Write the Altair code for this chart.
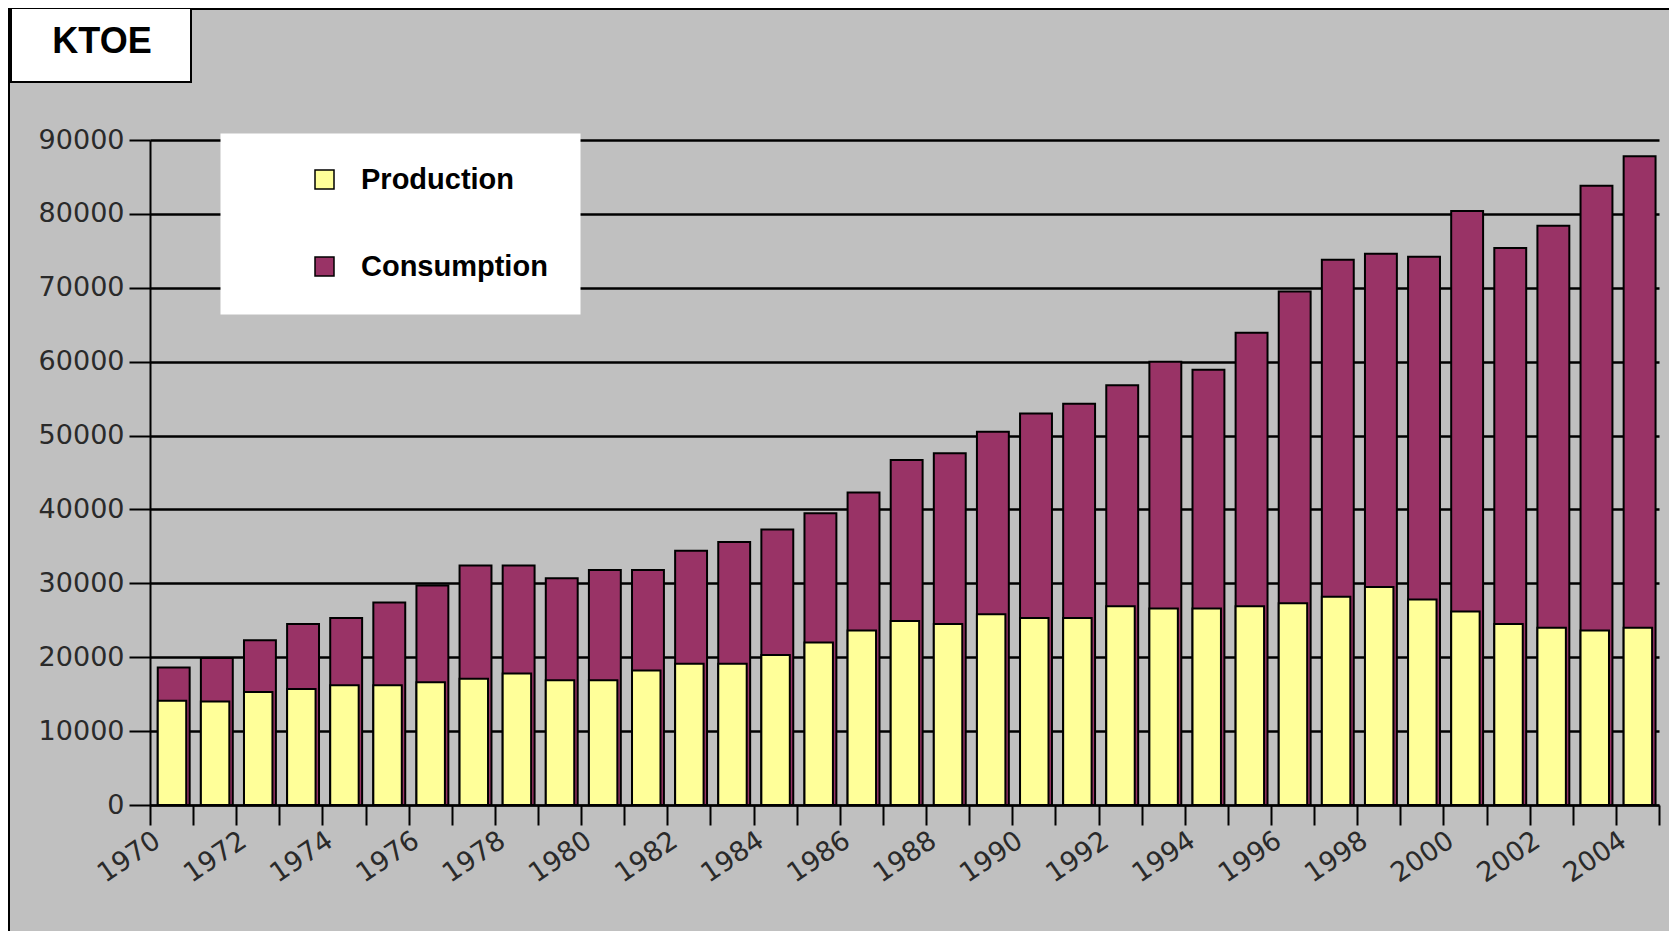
import altair as alt
import pandas as pd

years = list(range(1970, 2005))
production = [14100, 14000, 15300, 15700, 16200, 16200, 16600, 17100, 17800, 16900,
              16900, 18200, 19100, 19100, 20300, 22000, 23600, 24900, 24500, 25800,
              25300, 25300, 26900, 26600, 26600, 26900, 27300, 28200, 29500, 27800,
              26200, 24500, 24000, 23600, 24000]
consumption = [18600, 19900, 22300, 24500, 25300, 27400, 29700, 32400, 32400, 30700,
               31800, 31800, 34400, 35600, 37300, 39500, 42300, 46700, 47600, 50500,
               53000, 54300, 56800, 60000, 58900, 63900, 69500, 73800, 74600, 74200,
               80400, 75400, 78400, 83800, 87800]
series_names = ["Production", "Consumption"]
series_colors = ["#FFFF99", "#993366"]
tick_years = list(range(1970, 2006))
y_ticks = list(range(0, 90001, 10000))
unit_label = "KTOE"

df = pd.DataFrame({
    "year": years + years,
    "series": ["Production"] * len(years) + ["Consumption"] * len(years),
    "value": production + consumption,
})

W, H = 1509, 665
PAD = {"left": 142, "top": 132, "right": 10, "bottom": 126}

xscale = alt.Scale(domain=[1970, 2005], nice=False, zero=False)
yscale = alt.Scale(domain=[0, 90000], nice=False)

x_axis = alt.Axis(
    values=tick_years, format="d",
    labelExpr="datum.value % 2 == 0 && datum.value < 2005 ? datum.label : ''",
    labelAngle=326, labelAlign="right", labelBaseline="top",
    labelFont="DejaVu Sans", labelFontSize=27, labelColor="#2a2a2a",
    labelPadding=2, labelFlush=False, labelOverlap=False, labelBound=False,
    tickSize=20, tickWidth=2, tickColor="black",
    domainColor="black", domainWidth=2, grid=False, title=None,
)
y_axis = alt.Axis(
    values=y_ticks, format="d",
    labelFont="DejaVu Sans", labelFontSize=27, labelColor="#2a2a2a",
    labelPadding=5, tickSize=21, tickWidth=2, tickColor="black",
    domainColor="black", domainWidth=2,
    grid=True, gridColor="black", gridWidth=2.5, title=None,
)
color = alt.Color(
    "series:N",
    scale=alt.Scale(domain=series_names, range=series_colors),
    legend=alt.Legend(
        title=None, orient="none", legendX=70, legendY=-7,
        fillColor="white", strokeColor="transparent", padding=32,
        symbolType="square", symbolSize=361, symbolOffset=58,
        symbolStrokeColor="black", symbolStrokeWidth=1.5,
        labelOffset=22, rowPadding=57, labelLimit=400,
        labelFont="Liberation Sans", labelFontSize=29, labelFontWeight="bold",
        labelColor="black",
    ),
)

base = alt.Chart(df).transform_calculate(
    x0="datum.year + 0.18",
    x1="datum.series == 'Production' ? datum.year + 0.84 : datum.year + 0.92",
    zero="0",
)

def bars(name):
    return base.transform_filter(f"datum.series == '{name}'").mark_rect(
        stroke="black", strokeWidth=2
    ).encode(
        x=alt.X("x0:Q", scale=xscale, axis=x_axis),
        x2="x1:Q",
        y=alt.Y("value:Q", scale=yscale, axis=y_axis),
        y2="zero:Q",
        color=color,
    )

deco = alt.Data(values=[{"a": 1}])
left_border = alt.Chart(deco).mark_rule(color="black", strokeWidth=2).encode(
    x=alt.value(-141), y=alt.value(-132), y2=alt.value(H + 126))
top_border = alt.Chart(deco).mark_rule(color="black", strokeWidth=2).encode(
    x=alt.value(-142), x2=alt.value(W + 10), y=alt.value(-131))
ktoe_box = alt.Chart(deco).mark_rect(fill="white", stroke="black", strokeWidth=2).encode(
    x=alt.value(-139), x2=alt.value(41), y=alt.value(-132), y2=alt.value(-58))
ktoe_text = alt.Chart(deco).mark_text(
    text=unit_label, font="Liberation Sans", fontSize=36, fontWeight="bold",
    color="black", align="center", baseline="alphabetic",
).encode(x=alt.value(-48), y=alt.value(-87))

chart = alt.layer(
    bars("Consumption"), bars("Production"),
    left_border, top_border, ktoe_box, ktoe_text,
).properties(
    width=W, height=H,
    autosize=alt.AutoSizeParams(type="none"),
    padding=PAD,
    background="#c0c0c0",
).configure_view(fill="#c0c0c0", stroke="transparent")

chart.save("out.html", embed_options={"renderer": "svg", "actions": False})
